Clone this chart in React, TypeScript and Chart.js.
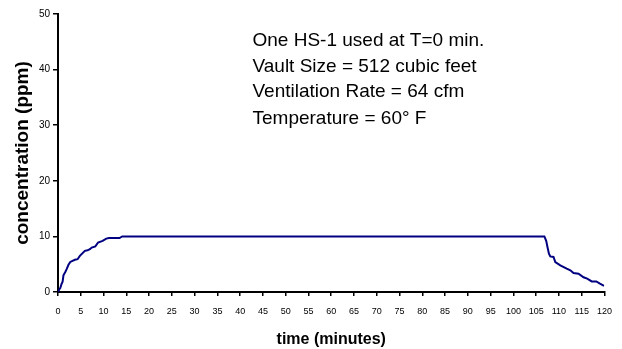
import React, { useEffect, useRef } from "react";
import { Chart, registerables } from "chart.js";

Chart.register(...registerables);

const timeMinutes = [0, 0.3, 0.5, 0.8, 1.0, 1.2, 1.6, 1.9, 2.3, 2.7, 3.7, 4.3, 4.8, 5.9, 6.5, 7.0, 7.4, 8.2, 8.8, 9.8, 10.6, 11.2, 13.5, 14.1, 106.8, 107.2, 107.5, 107.8, 108.1, 108.8, 109.2, 110.3, 111.7, 112.5, 113.2, 114.3, 115.4, 116.2, 117.2, 118.2, 119.0, 119.9];
const concentrationPpm = [0, 0.5, 0.7, 1.5, 1.8, 3.0, 3.6, 4.1, 4.9, 5.4, 5.8, 5.9, 6.5, 7.4, 7.5, 7.7, 8.0, 8.2, 8.9, 9.2, 9.6, 9.7, 9.7, 10.0, 10.0, 9.2, 8.0, 6.9, 6.4, 6.3, 5.4, 4.8, 4.2, 3.9, 3.4, 3.3, 2.65, 2.4, 1.9, 1.9, 1.5, 1.1];
const annotationLines = [
  "One HS-1 used at T=0 min.",
  "Vault Size = 512 cubic feet",
  "Ventilation Rate = 64 cfm",
  "Temperature = 60\u00B0 F",
];
const xAxisTitle = "time (minutes)";
const yAxisTitle = "concentration (ppm)";

const FONT = "'Liberation Sans', Arial, sans-serif";

const annotationPlugin = {
  id: "annotationText",
  afterDraw(chart: any) {
    const ctx = chart.ctx;
    ctx.save();
    ctx.fillStyle = "#000";
    ctx.font = "19px " + FONT;
    ctx.textBaseline = "alphabetic";
    ctx.textAlign = "left";
    const baselines = [46, 71.7, 96.7, 124.3];
    annotationLines.forEach((t, i) => ctx.fillText(t, 252.5, baselines[i]));
    ctx.restore();
  },
};

export default function App() {
  const ref = useRef<HTMLCanvasElement>(null);
  useEffect(() => {
    document.body.style.margin = "0";
    const data = timeMinutes.map((t, i) => ({ x: t, y: concentrationPpm[i] }));
    const chart = new Chart(ref.current!, {
      type: "line",
      data: {
        datasets: [
          {
            data,
            borderColor: "#000080",
            borderWidth: 2,
            pointRadius: 0,
            tension: 0,
            fill: false,
          },
        ],
      },
      options: {
        animation: false,
        responsive: false,
        layout: { padding: { top: 14, right: 15, left: 0, bottom: 0 } },
        plugins: { legend: { display: false }, tooltip: { enabled: false } },
        scales: {
          x: {
            type: "linear",
            min: 0,
            max: 120,
            afterFit(scale: any) {
              scale.height = 57;
            },
            ticks: {
              stepSize: 5,
              color: "#000",
              font: { family: FONT, size: 9 },
              maxRotation: 0,
              autoSkip: false,
              padding: 10,
            },
            grid: { drawOnChartArea: false, drawTicks: true, tickLength: 4, color: "#000", lineWidth: 1.5 },
            border: { color: "#000", width: 2 },
            title: {
              display: true,
              text: xAxisTitle,
              color: "#000",
              font: { family: FONT, size: 16, weight: "bold" },
              padding: { top: 0, bottom: 0 },
            },
          },
          y: {
            min: 0,
            max: 50,
            afterFit(scale: any) {
              scale.width = 58;
            },
            ticks: {
              stepSize: 10,
              color: "#000",
              font: { family: FONT, size: 10 },
              padding: 3,
            },
            grid: { drawOnChartArea: false, drawTicks: true, tickLength: 5, color: "#000", lineWidth: 1.5 },
            border: { color: "#000", width: 2 },
            title: {
              display: true,
              text: yAxisTitle,
              color: "#000",
              font: { family: FONT, size: 19, weight: "bold" },
              padding: { top: 11, bottom: 0 },
            },
          },
        },
      },
      plugins: [annotationPlugin],
    });
    return () => chart.destroy();
  }, []);
  return (
    <div style={{ width: 622, height: 349 }}>
      <canvas ref={ref} width={622} height={349} />
    </div>
  );
}
